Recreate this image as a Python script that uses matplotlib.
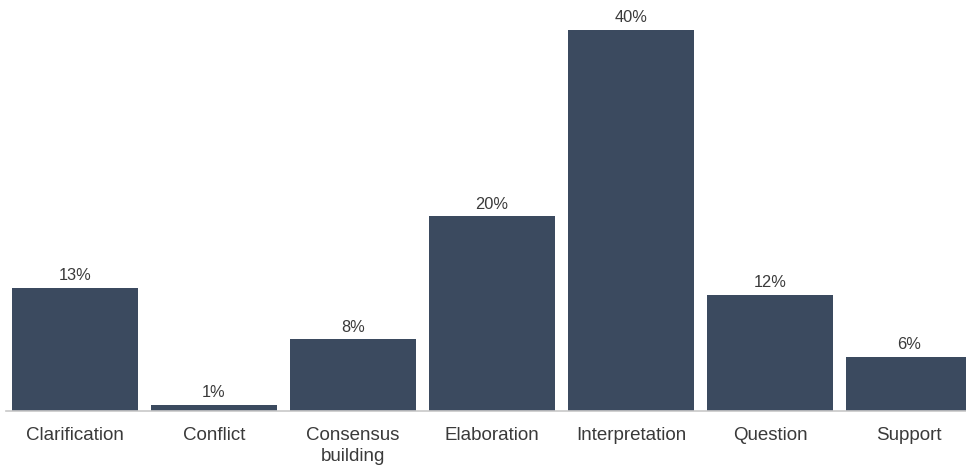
import matplotlib.pyplot as plt

categories = ['Clarification', 'Conflict', 'Consensus\nbuilding', 'Elaboration',
              'Interpretation', 'Question', 'Support']
shares = [12.9, 0.6, 7.5, 20.4, 40.0, 12.2, 5.7]
share_labels = ['13%', '1%', '8%', '20%', '40%', '12%', '6%']

bar_color = '#3b4a5f'
text_color = '#3a3a3a'

plt.rcParams['font.family'] = ['Liberation Sans', 'DejaVu Sans']

fig = plt.figure(figsize=(9.66, 4.68), dpi=100)
ax = fig.add_axes([6 / 966, 1 - 411 / 468, 960 / 966, 411 / 468])

x = range(len(categories))
ax.bar(x, shares, width=0.906, color=bar_color)
for xi, v, lab in zip(x, shares, share_labels):
    ax.annotate(lab, (xi, v), xytext=(0, 3.5), textcoords='offset points',
                ha='center', va='bottom', fontsize=11.8, color=text_color)

ax.set_xlim(-0.496, 6.41)
ax.set_ylim(0, 43.1)
ax.set_xticks(list(x))
ax.set_xticklabels(categories, fontsize=13.5, color=text_color, linespacing=1.3)
ax.tick_params(axis='x', length=0, pad=11.5)
ax.set_yticks([])
for side in ['top', 'right', 'left']:
    ax.spines[side].set_visible(False)
ax.spines['bottom'].set_color('#c8c8c8')
ax.spines['bottom'].set_linewidth(1.2)

fig.savefig('out.png', dpi=100)
